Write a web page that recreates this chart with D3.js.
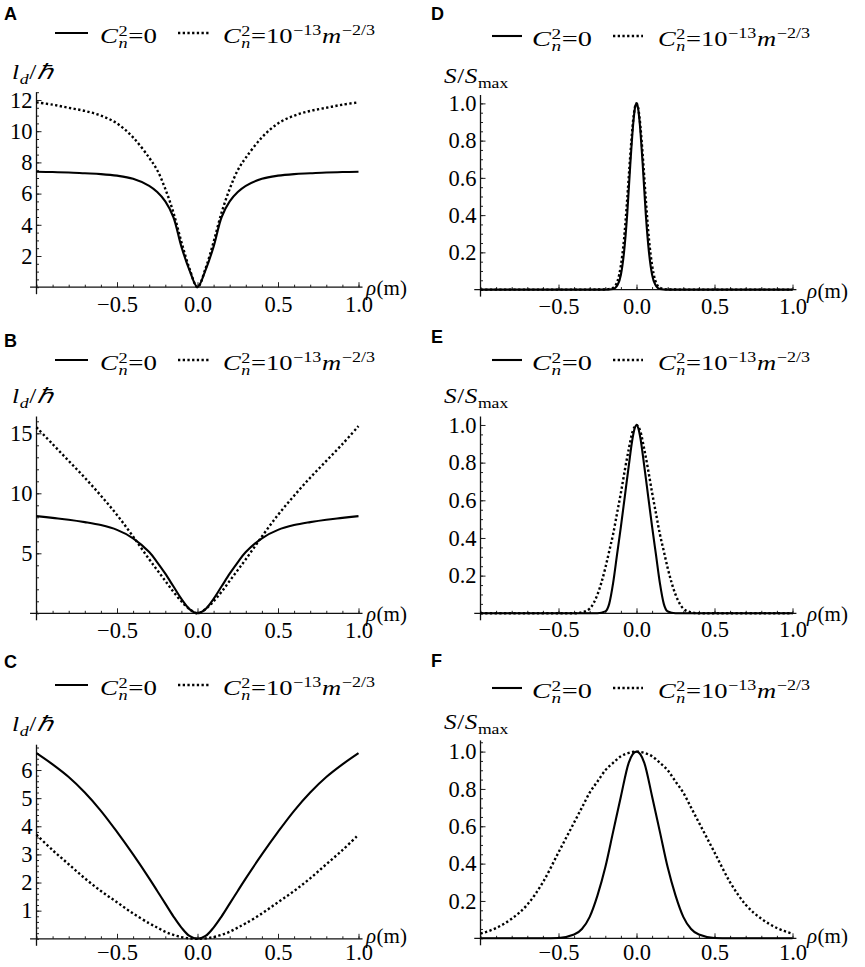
<!DOCTYPE html>
<html>
<head>
<meta charset="utf-8">
<script src="https://cdn.jsdelivr.net/npm/d3@7"></script>
<style>
  body { margin: 0; background: #fff; }
  text { font-family: "Liberation Serif", "Times New Roman", serif; fill: #000; }
  .tick line { stroke: #222; stroke-width: 1; }
  .letter { font-family: "Liberation Sans", Arial, sans-serif; font-weight: bold; font-size: 18px; }
</style>
</head>
<body>
<script>

// rho grid (m) for the l_d panels
var rhoWide = [-1, -0.9, -0.8, -0.7, -0.6, -0.5, -0.4, -0.3, -0.25, -0.2, -0.15, -0.1, -0.05, 0,
               0.05, 0.1, 0.15, 0.2, 0.25, 0.3, 0.4, 0.5, 0.6, 0.7, 0.8, 0.9, 1];

// panel A : l_d / hbar
var ldA0 = [7.4, 7.38, 7.35, 7.3, 7.25, 7.15, 6.95, 6.5, 6.1, 5.5, 4.5, 2.6, 1.1, 0,
            1.1, 2.6, 4.5, 5.5, 6.1, 6.5, 6.95, 7.15, 7.25, 7.3, 7.35, 7.38, 7.4];
var ldA1 = [11.85, 11.7, 11.5, 11.3, 11.0, 10.5, 9.6, 8.3, 7.5, 6.3, 4.8, 2.9, 1.2, 0,
            1.2, 2.9, 4.8, 6.3, 7.5, 8.3, 9.6, 10.5, 11.0, 11.3, 11.5, 11.7, 11.85];

// panel B
var ldB0 = [8.1, 7.95, 7.8, 7.6, 7.35, 6.95, 6.25, 5.1, 4.25, 3.3, 2.25, 1.2, 0.35, 0,
            0.35, 1.2, 2.25, 3.3, 4.25, 5.1, 6.25, 6.95, 7.35, 7.6, 7.8, 7.95, 8.1];
var ldB1 = [15.5, 14.1, 12.7, 11.3, 9.8, 8.2, 6.4, 4.5, 3.6, 2.7, 1.8, 1.0, 0.35, 0,
            0.35, 1.0, 1.8, 2.7, 3.6, 4.5, 6.4, 8.2, 9.8, 11.3, 12.7, 14.1, 15.6];

// panel C
var ldC0 = [6.6, 6.2, 5.75, 5.2, 4.55, 3.8, 3.0, 2.15, 1.7, 1.25, 0.8, 0.4, 0.1, 0,
            0.1, 0.4, 0.8, 1.25, 1.7, 2.15, 3.0, 3.8, 4.55, 5.2, 5.75, 6.2, 6.6];
var ldC1 = [3.7, 3.15, 2.65, 2.15, 1.7, 1.3, 0.9, 0.55, 0.4, 0.25, 0.14, 0.06, 0.015, 0,
            0.015, 0.06, 0.14, 0.25, 0.4, 0.55, 0.9, 1.3, 1.7, 2.15, 2.65, 3.15, 3.7];

// panel D : S / Smax
var rhoD = [-1, -0.5, -0.3, -0.2, -0.15, -0.12, -0.1, -0.08, -0.06, -0.04, -0.02, -0.01, 0,
            0.01, 0.02, 0.04, 0.06, 0.08, 0.1, 0.12, 0.15, 0.2, 0.3, 0.5, 1];
var sD0 = [0, 0, 0, 0, 0.003, 0.027, 0.08, 0.2, 0.4, 0.67, 0.9, 0.975, 1,
           0.975, 0.9, 0.67, 0.4, 0.2, 0.08, 0.027, 0.003, 0, 0, 0, 0];
var sD1 = [0, 0, 0, 0.001, 0.01, 0.05, 0.13, 0.27, 0.48, 0.72, 0.92, 0.98, 1,
           0.98, 0.92, 0.72, 0.48, 0.27, 0.13, 0.05, 0.01, 0.001, 0, 0, 0];

// panel E
var rhoE = [-1, -0.6, -0.4, -0.35, -0.3, -0.25, -0.2, -0.175, -0.15, -0.125, -0.1, -0.075, -0.05, -0.025, -0.0125, 0,
            0.0125, 0.025, 0.05, 0.075, 0.1, 0.125, 0.15, 0.175, 0.2, 0.25, 0.3, 0.35, 0.4, 0.6, 1];
var sE0 = [0, 0, 0, 0, 0, 0, 0.01, 0.05, 0.16, 0.31, 0.46, 0.62, 0.78, 0.93, 0.98, 1,
           0.98, 0.93, 0.78, 0.62, 0.46, 0.31, 0.16, 0.05, 0.01, 0, 0, 0, 0, 0, 0];
var sE1 = [0, 0, 0, 0.005, 0.025, 0.1, 0.24, 0.33, 0.42, 0.53, 0.64, 0.76, 0.87, 0.965, 0.99, 1,
           0.99, 0.965, 0.87, 0.76, 0.64, 0.53, 0.42, 0.33, 0.24, 0.1, 0.025, 0.005, 0, 0, 0];

// panel F
var rhoF = [-1, -0.9, -0.8, -0.7, -0.6, -0.5, -0.4, -0.35, -0.3, -0.25, -0.2, -0.15, -0.1, -0.05, -0.025, 0,
            0.025, 0.05, 0.1, 0.15, 0.2, 0.25, 0.3, 0.35, 0.4, 0.5, 0.6, 0.7, 0.8, 0.9, 1];
var sF0 = [0, 0, 0, 0, 0, 0.002, 0.02, 0.05, 0.115, 0.23, 0.38, 0.57, 0.76, 0.94, 0.985, 1,
           0.985, 0.94, 0.76, 0.57, 0.38, 0.23, 0.115, 0.05, 0.02, 0.002, 0, 0, 0, 0, 0];
var sF1 = [0.025, 0.055, 0.105, 0.18, 0.3, 0.46, 0.62, 0.7, 0.78, 0.84, 0.9, 0.94, 0.975, 0.993, 0.998, 1,
           0.998, 0.993, 0.975, 0.94, 0.9, 0.84, 0.78, 0.7, 0.62, 0.46, 0.3, 0.18, 0.105, 0.055, 0.025];

// tick labels
var xMajor = [-0.5, 0, 0.5, 1];
var yMajorA = [2, 4, 6, 8, 10, 12];
var yMajorB = [5, 10, 15];
var yMajorC = [1, 2, 3, 4, 5, 6];
var yMajorS = [0.2, 0.4, 0.6, 0.8, 1.0];

var svgWidth = 865;
var svgHeight = 967;
var serif = "'Liberation Serif', 'Times New Roman', serif";

var svg = d3.select("body")
  .append("svg")
  .attr("width", svgWidth)
  .attr("height", svgHeight);

// column layout
var cols = {
  L: { x0: 36.5, x1: 358.5, letterX: 4, ylabX: 12, ylabW: 42, rhoX: 366,
       legSolid: [55, 88], legDot: [178, 210], legT0: 100, legW0: 57, legT1: 223, legW1: 152 },
  R: { x0: 480.5, x1: 792.5, letterX: 431, ylabX: 444, ylabW: 65, rhoX: 807,
       legSolid: [492, 522], legDot: [613, 643], legT0: 532, legW0: 60, legT1: 658, legW1: 152 }
};

var ldLabel = [{t: "l", i: 1}, {t: "d", i: 1, s: 0.7, r: -0.25}, {t: "/"}, {t: "\u210F", i: 1}];
var sLabel = [{t: "S", i: 1}, {t: "/"}, {t: "S", i: 1}, {t: "max", s: 0.7, r: -0.25}];
var leg0 = [{t: "C", i: 1}, {t: "2", s: 0.68, r: 0.3}, {t: "n", i: 1, s: 0.68, r: -0.23, stack: 1}, {t: "=0"}];
var leg1 = [{t: "C", i: 1}, {t: "2", s: 0.68, r: 0.3}, {t: "n", i: 1, s: 0.68, r: -0.23, stack: 1},
            {t: "=10"}, {t: "\u221213", s: 0.68, r: 0.36}, {t: "m", i: 1}, {t: "\u22122/3", s: 0.68, r: 0.36}];

var panels = [
  { id: "A", col: "L", y0: 287.2, yTop: 92.2, yMax: 12.5, letterY: 20, legY: 33, ylabY: 79, pad: 9, rhoDy: 8,
    rho: rhoWide, a: ldA0, b: ldA1, major: yMajorA, minor: 0.5, fmt: d3.format("d"), ylab: ldLabel },
  { id: "B", col: "L", y0: 613.3, yTop: 416.5, yMax: 16.4, letterY: 347, legY: 360, ylabY: 403, pad: 9, rhoDy: 8,
    rho: rhoWide, a: ldB0, b: ldB1, major: yMajorB, minor: 1, fmt: d3.format("d"), ylab: ldLabel },
  { id: "C", col: "L", y0: 938.8, yTop: 744.7, yMax: 6.9, letterY: 668, legY: 685, ylabY: 731, pad: 5, rhoDy: 4,
    rho: rhoWide, a: ldC0, b: ldC1, major: yMajorC, minor: 0.2, fmt: d3.format("d"), ylab: ldLabel },
  { id: "D", col: "R", y0: 289.6, yTop: 95, yMax: 1.045, letterY: 20, legY: 36, ylabY: 83, pad: 8, rhoDy: 8,
    rho: rhoD, a: sD0, b: sD1, major: yMajorS, minor: 0.05, fmt: d3.format(".1f"), ylab: sLabel },
  { id: "E", col: "R", y0: 613.3, yTop: 416.5, yMax: 1.045, letterY: 343, legY: 360, ylabY: 403, pad: 8, rhoDy: 8,
    rho: rhoE, a: sE0, b: sE1, major: yMajorS, minor: 0.05, fmt: d3.format(".1f"), ylab: sLabel },
  { id: "F", col: "R", y0: 938.3, yTop: 740.4, yMax: 1.06, letterY: 667, legY: 688, ylabY: 729, pad: 6, rhoDy: 5,
    rho: rhoF, a: sF0, b: sF1, major: yMajorS, minor: 0.05, fmt: d3.format(".1f"), ylab: sLabel }
];

// small typesetting helper: one text, tspans for sub/superscripts, squeezed to a width
function mathLabel(g, x, y, runs, fs, targetW) {
  var grp = g.append("g");
  var txt = grp.append("text").style("font-family", serif);
  var cursor = 0, prevStart = 0;
  runs.forEach(function(r) {
    var start = r.stack ? prevStart : cursor;
    var t = txt.append("tspan")
      .attr("x", start)
      .attr("y", -(r.r || 0) * fs)
      .attr("font-size", fs * (r.s || 1))
      .attr("font-style", r.i ? "italic" : "normal")
      .text(r.t);
    var w = t.node().getComputedTextLength();
    prevStart = start;
    cursor = Math.max(cursor, start + w + 0.5);
  });
  var sx = 1;
  if (targetW) {
    sx = targetW / grp.node().getBBox().width;
  }
  grp.attr("transform", `translate(${x}, ${y}) scale(${sx}, 1)`);
  return grp;
}

function styleTicks(a) {
  a.select(".domain").remove();
  a.selectAll("text")
    .style("font-family", serif)
    .style("font-size", "22.5px")
    .style("fill", "#000");
}

panels.forEach(function(p) {
  var c = cols[p.col];
  var g = svg.append("g");

  var xScale = d3.scaleLinear().domain([-1, 1]).range([c.x0, c.x1]);
  var yScale = d3.scaleLinear().domain([0, p.yMax]).range([p.y0, p.yTop]);

  // minor ticks
  g.append("g")
    .attr("transform", `translate(0, ${p.y0})`)
    .call(d3.axisBottom(xScale).tickValues(d3.range(-10, 11).map(d => d / 10))
      .tickSizeInner(-2.5).tickSizeOuter(0).tickFormat(""))
    .call(styleTicks);
  g.append("g")
    .attr("transform", `translate(${c.x0}, 0)`)
    .call(d3.axisLeft(yScale).tickValues(d3.range(0, p.yMax + 1e-9, p.minor))
      .tickSizeInner(-2.5).tickSizeOuter(0).tickFormat(""))
    .call(styleTicks);

  // major ticks and labels
  g.append("g")
    .attr("transform", `translate(0, ${p.y0})`)
    .call(d3.axisBottom(xScale).tickValues(xMajor).tickSizeInner(-5).tickSizeOuter(0)
      .tickPadding(p.pad).tickFormat(d3.format(".1f")))
    .call(styleTicks);
  g.append("g")
    .attr("transform", `translate(${c.x0}, 0)`)
    .call(d3.axisLeft(yScale).tickValues(p.major).tickSizeInner(-5).tickSizeOuter(0)
      .tickPadding(4).tickFormat(p.fmt))
    .call(styleTicks);

  // axis lines (Mathematica style, a bit past the range)
  g.append("line")
    .attr("x1", xScale(-1.04)).attr("x2", xScale(1.025))
    .attr("y1", yScale(0)).attr("y2", yScale(0))
    .attr("stroke", "#111").attr("stroke-width", 1.3);
  g.append("line")
    .attr("x1", xScale(-1)).attr("x2", xScale(-1))
    .attr("y1", yScale(p.yMax)).attr("y2", yScale(0) + 7)
    .attr("stroke", "#111").attr("stroke-width", 1.3);

  var pts = p.rho.map((r, i) => ({ r: r, a: p.a[i], b: p.b[i] }));

  // smooth curves for l_d, shape-keeping ones for the spot profiles
  var curve = p.col === "L" ? d3.curveCatmullRom.alpha(0.5) : d3.curveMonotoneX;
  var lineA = d3.line().x(d => xScale(d.r)).y(d => yScale(d.a)).curve(curve);
  var lineB = d3.line().x(d => xScale(d.r)).y(d => yScale(d.b)).curve(curve);

  g.append("path")
    .datum(pts)
    .attr("d", lineB)
    .attr("fill", "none")
    .attr("stroke", "#000")
    .attr("stroke-width", 2.4)
    .attr("stroke-dasharray", "2.3,2.4");

  g.append("path")
    .datum(pts)
    .attr("d", lineA)
    .attr("fill", "none")
    .attr("stroke", "#000")
    .attr("stroke-width", 2.1);

  // panel letter
  g.append("text")
    .attr("class", "letter")
    .attr("x", c.letterX)
    .attr("y", p.letterY)
    .text(p.id);

  // legend
  g.append("line")
    .attr("x1", c.legSolid[0]).attr("x2", c.legSolid[1])
    .attr("y1", p.legY).attr("y2", p.legY)
    .attr("stroke", "#000").attr("stroke-width", 2.1);
  g.append("line")
    .attr("x1", c.legDot[0]).attr("x2", c.legDot[1])
    .attr("y1", p.legY).attr("y2", p.legY)
    .attr("stroke", "#000").attr("stroke-width", 2.3)
    .attr("stroke-dasharray", "2.3,2.4");
  mathLabel(g, c.legT0, p.legY + 10, leg0, 22, c.legW0);
  mathLabel(g, c.legT1, p.legY + 10, leg1, 22, c.legW1);

  // axis labels
  mathLabel(g, c.ylabX, p.ylabY, p.ylab, 21, c.ylabW);
  mathLabel(g, c.rhoX, p.y0 + p.rhoDy, [{t: "\u03C1", i: 1}, {t: "(m)"}], 21);
});

</script>
</body>
</html>
